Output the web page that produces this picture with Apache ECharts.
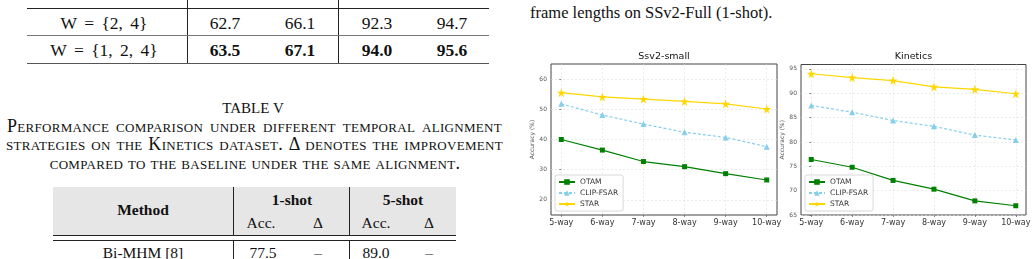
<!DOCTYPE html>
<html>
<head>
<meta charset="utf-8">
<script src="https://cdn.jsdelivr.net/npm/echarts@6/dist/echarts.min.js"></script>
<style>
body{margin:0;width:1036px;height:259px;overflow:hidden;background:#fff;position:relative;font-family:"Liberation Serif","DejaVu Serif",serif;color:#111;}
.t{position:absolute;white-space:nowrap;transform:translate(-50%,-50%);}
.hl{position:absolute;height:1px;background:#222;}
.vl{position:absolute;width:1px;background:#222;}
.cap{position:absolute;font-size:18px;letter-spacing:0.3px;font-variant:small-caps;text-align:justify;text-align-last:justify;white-space:nowrap;line-height:18px;}
.w{word-spacing:3px;}
#chart{position:absolute;left:520px;top:40px;width:516px;height:219px;}
</style>
</head>
<body>
<!-- top table (tail) -->
<div class="vl" style="left:187px;top:0;height:64px"></div>
<div class="vl" style="left:338px;top:0;height:64px"></div>
<div class="hl" style="left:27px;top:8px;width:462px"></div>
<div class="t w" style="left:104px;top:23px;font-size:17.5px">W = {2, 4}</div>
<div class="t" style="left:225px;top:23px;font-size:17.5px">62.7</div>
<div class="t" style="left:300px;top:23px;font-size:17.5px">66.1</div>
<div class="t" style="left:377px;top:23px;font-size:17.5px">92.3</div>
<div class="t" style="left:452px;top:23px;font-size:17.5px">94.7</div>
<div class="hl" style="left:27px;top:35px;width:462px;background:#777"></div>
<div class="t w" style="left:104px;top:50px;font-size:17.5px">W = {1, 2, 4}</div>
<div class="t" style="left:225px;top:50px;font-size:17.5px;font-weight:bold">63.5</div>
<div class="t" style="left:300px;top:50px;font-size:17.5px;font-weight:bold">67.1</div>
<div class="t" style="left:377px;top:50px;font-size:17.5px;font-weight:bold">94.0</div>
<div class="t" style="left:452px;top:50px;font-size:17.5px;font-weight:bold">95.6</div>
<div class="hl" style="left:27px;top:63px;width:462px;background:#555"></div>

<!-- caption -->
<div class="t" style="left:253px;top:108px;font-size:15px">TABLE V</div>
<div class="cap" style="left:7px;top:117px;width:495px">Performance comparison under different temporal alignment</div>
<div class="cap" style="left:6px;top:135px;width:497px">strategies on the Kinetics dataset. Δ denotes the improvement</div>
<div class="t" style="left:255px;top:163px;font-size:18px;letter-spacing:0.3px;font-variant:small-caps">compared to the baseline under the same alignment.</div>

<!-- bottom table (head) -->
<div style="position:absolute;left:53px;top:187px;width:403px;height:48px;background:#e6e6e6"></div>
<div class="vl" style="left:233px;top:187px;height:48px"></div>
<div class="vl" style="left:349px;top:187px;height:48px"></div>
<div class="t" style="left:143px;top:210px;font-size:15.5px;font-weight:bold">Method</div>
<div class="t" style="left:292px;top:200px;font-size:15.5px;font-weight:bold">1-shot</div>
<div class="t" style="left:403px;top:200px;font-size:15.5px;font-weight:bold">5-shot</div>
<div class="t" style="left:261px;top:223px;font-size:15.5px">Acc.</div>
<div class="t" style="left:318px;top:223px;font-size:15.5px">Δ</div>
<div class="t" style="left:376px;top:223px;font-size:15.5px">Acc.</div>
<div class="t" style="left:429px;top:223px;font-size:15.5px">Δ</div>
<div class="hl" style="left:53px;top:235px;width:403px"></div>
<div class="hl" style="left:53px;top:240px;width:403px"></div>
<div class="vl" style="left:233px;top:241px;height:20px"></div>
<div class="vl" style="left:349px;top:241px;height:20px"></div>
<div class="t" style="left:143px;top:253px;font-size:15.5px">Bi-MHM [8]</div>
<div class="t" style="left:263px;top:253px;font-size:15.5px">77.5</div>
<div class="t" style="left:318px;top:253px;font-size:15.5px">–</div>
<div class="t" style="left:376px;top:253px;font-size:15.5px">89.0</div>
<div class="t" style="left:429px;top:253px;font-size:15.5px">–</div>

<!-- right column text -->
<div style="position:absolute;left:530px;top:3px;font-size:16.5px;white-space:nowrap">frame lengths on SSv2-Full (1-shot).</div>

<div id="chart"></div>
<script>
const ways = ['5-way', '6-way', '7-way', '8-way', '9-way', '10-way'];
const ssv2Otam = [40.0, 36.5, 32.7, 31.0, 28.7, 26.6];
const ssv2Clip = [51.8, 48.1, 45.1, 42.4, 40.7, 37.6];
const ssv2Star = [55.5, 54.1, 53.4, 52.6, 51.8, 50.1];
const kinOtam = [76.4, 74.8, 72.1, 70.3, 67.9, 66.9];
const kinClip = [87.5, 86.1, 84.4, 83.2, 81.4, 80.4];
const kinStar = [94.0, 93.2, 92.6, 91.3, 90.8, 89.9];
const ssv2Ticks = [20, 30, 40, 50, 60];
const kinTicks = [65, 70, 75, 80, 85, 90, 95];
const wayIdx = [0, 1, 2, 3, 4, 5];

const starPath = 'path://M50,0 L61,35 L98,35 L68,57 L79,91 L50,70 L21,91 L32,57 L2,35 L39,35 Z';

function pairs(vals){
    return vals.map((v, i) => [i, v]);
}
function line(name, vals, idx, color, symbol, size, dashed){
    return {
        name: name,
        type: 'line',
        xAxisIndex: idx,
        yAxisIndex: idx,
        data: pairs(vals),
        color: color,
        symbol: symbol,
        symbolSize: size,
        lineStyle: { color: color, width: 1.2, type: dashed ? [3, 2] : 'solid' },
        itemStyle: { color: color },
        emphasis: { disabled: true },
        animation: false
    };
}
function xAx(idx){
    return {
        type: 'value', gridIndex: idx, min: -0.25, max: 5.25,
        axisLine: { show: false },
        axisTick: { show: true, inside: false, length: 2, customValues: wayIdx, lineStyle: { color: '#444', width: 0.6 } },
        axisLabel: { customValues: wayIdx, formatter: v => ways[Math.round(v)], fontSize: 8, color: '#333', margin: 4, fontFamily: 'DejaVu Sans' },
        splitLine: { show: true, lineStyle: { color: '#dedede', width: 0.6, type: [2, 2] } }
    };
}
function yAx(idx, min, max, ticks){
    return {
        type: 'value', gridIndex: idx, min: min, max: max,
        name: 'Accuracy (%)', nameLocation: 'middle', nameRotate: 90, nameGap: 12,
        nameTextStyle: { fontSize: 6, color: '#555', fontFamily: 'DejaVu Sans' },
        axisLine: { show: false },
        axisTick: { show: true, length: 2, customValues: ticks, lineStyle: { color: '#444', width: 0.6 } },
        axisLabel: { customValues: ticks, fontSize: 6, color: '#555', margin: 4, fontFamily: 'DejaVu Sans' },
        splitLine: { show: true, lineStyle: { color: '#dedede', width: 0.6, type: [2, 2] } }
    };
}
function legend(left){
    return {
        left: left, top: 135, orient: 'vertical',
        data: ['OTAM', 'CLIP-FSAR', 'STAR'],
        backgroundColor: '#fff', borderColor: '#cfcfcf', borderWidth: 0.8, borderRadius: 2,
        padding: [3, 5, 3, 3], itemGap: 3, itemWidth: 16, itemHeight: 7,
        textStyle: { fontSize: 7.5, color: '#333', fontFamily: 'DejaVu Sans' },
        selectedMode: false
    };
}

const myChart = echarts.init(document.getElementById('chart'), null, { renderer: 'canvas' });
const option = {
    animation: false,
    title: [
        { text: 'Ssv2-small', left: 144, top: 12, textAlign: 'center', padding: 0,
          textStyle: { fontSize: 9.5, fontWeight: 'normal', color: '#111', fontFamily: 'DejaVu Sans' } },
        { text: 'Kinetics', left: 393.5, top: 12, textAlign: 'center', padding: 0,
          textStyle: { fontSize: 9.5, fontWeight: 'normal', color: '#111', fontFamily: 'DejaVu Sans' } }
    ],
    legend: [legend(35), legend(285)],
    grid: [
        { left: 31, top: 24, width: 226, height: 151, show: true, borderColor: '#444', borderWidth: 1, backgroundColor: 'transparent' },
        { left: 281, top: 24.5, width: 225, height: 150.5, show: true, borderColor: '#444', borderWidth: 1, backgroundColor: 'transparent' }
    ],
    xAxis: [xAx(0), xAx(1)],
    yAxis: [yAx(0, 15, 65, ssv2Ticks), yAx(1, 65, 95.9, kinTicks)],
    series: [
        line('OTAM', ssv2Otam, 0, '#008000', 'rect', 5, false),
        line('CLIP-FSAR', ssv2Clip, 0, '#87ceeb', 'triangle', 6, true),
        line('STAR', ssv2Star, 0, '#ffd700', starPath, 9, false),
        line('OTAM', kinOtam, 1, '#008000', 'rect', 5, false),
        line('CLIP-FSAR', kinClip, 1, '#87ceeb', 'triangle', 6, true),
        line('STAR', kinStar, 1, '#ffd700', starPath, 9, false)
    ]
};
option && myChart.setOption(option);
</script>
</body>
</html>
